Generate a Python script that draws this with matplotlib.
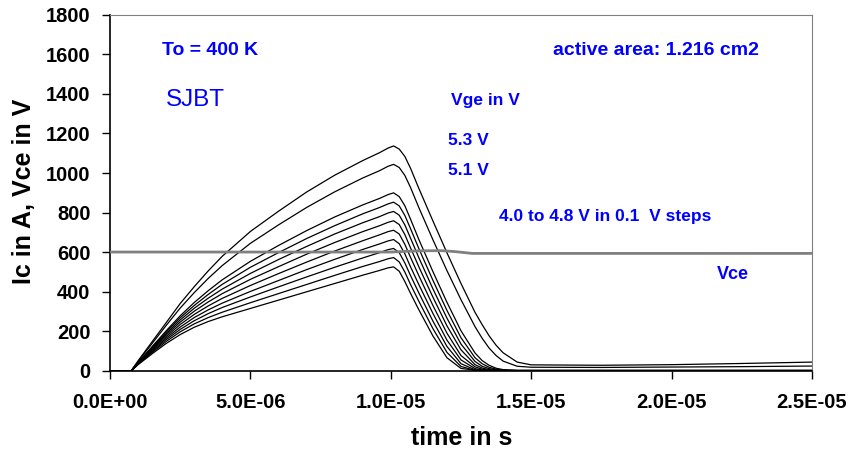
import numpy as np
import matplotlib
matplotlib.use("Agg")
import matplotlib.pyplot as plt
from matplotlib.ticker import FuncFormatter

plt.rcParams["font.family"] = ["Liberation Sans", "DejaVu Sans"]

# time axis of the collector current curves, in microseconds
t_us = [0, 0.75, 1.0, 1.5, 2.0, 2.5, 3.0, 3.5, 4.0, 5.0, 6.0, 7.0, 8.0,
        9.0, 9.6, 9.9, 10.1,
        10.3, 10.5, 10.7, 11.0, 11.5, 12.0, 12.5, 13.0, 13.25, 13.5, 13.75,
        14.0, 14.5, 15.0, 17.5, 20.0, 22.5, 25.0]

# Ic in A, one list per gate voltage (top curve to bottom curve)
ic_53 = [0, 0, 51, 148, 244, 341, 426, 506, 580, 705, 807, 904, 989,
         1063, 1103, 1126, 1137,
         1121, 1084, 1025, 922, 758, 597, 442, 296, 235, 178, 130,
         92, 45, 31, 29, 32, 38, 45]
ic_51 = [0, 0, 49, 139, 230, 318, 396, 468, 533, 645, 738, 826, 905,
         975, 1012, 1034, 1044,
         1028, 988, 928, 825, 663, 507, 360, 224, 166, 116, 78,
         50, 24, 19, 18, 20, 22, 25]
ic_48 = [0, 0, 43, 123, 203, 279, 346, 406, 461, 554, 634, 709, 778,
         839, 872, 891, 900,
         881, 835, 768, 664, 502, 347, 203, 91, 53, 29, 14,
         7, 3, 3, 3, 3, 3, 3]
ic_47 = [0, 0, 42, 120, 196, 269, 331, 387, 438, 524, 598, 669, 734,
         794, 826, 844, 853,
         834, 786, 720, 618, 458, 306, 168, 67, 37, 19, 9,
         4, 3, 3, 3, 3, 3, 3]
ic_46 = [0, 0, 41, 116, 189, 258, 317, 368, 414, 493, 563, 629, 692,
         749, 780, 798, 806,
         787, 738, 672, 572, 415, 267, 136, 48, 24, 12, 6,
         3, 2, 2, 2, 2, 2, 2]
ic_45 = [0, 0, 40, 112, 182, 247, 302, 349, 391, 463, 527, 590, 649,
         704, 734, 751, 759,
         740, 689, 623, 526, 373, 228, 107, 32, 15, 7, 4,
         2, 2, 2, 2, 2, 2, 2]
ic_44 = [0, 0, 38, 107, 174, 235, 286, 329, 367, 432, 492, 550, 606,
         658, 688, 704, 711,
         692, 640, 575, 481, 331, 191, 78, 21, 9, 4, 2,
         2, 2, 2, 2, 2, 2, 2]
ic_43 = [0, 0, 37, 103, 166, 222, 270, 309, 343, 402, 457, 512, 564,
         614, 642, 657, 664,
         643, 592, 527, 436, 291, 156, 56, 12, 5, 2, 2,
         2, 2, 2, 2, 2, 2, 2]
ic_42 = [0, 0, 35, 98, 158, 210, 254, 290, 321, 374, 425, 475, 524,
         571, 598, 613, 619,
         598, 546, 483, 394, 252, 124, 37, 6, 3, 2, 2,
         2, 2, 2, 2, 2, 2, 2]
ic_41 = [0, 0, 34, 93, 149, 198, 238, 270, 297, 345, 391, 437, 483,
         528, 553, 567, 573,
         551, 500, 438, 352, 214, 94, 23, 3, 2, 2, 2,
         2, 2, 2, 2, 2, 2, 2]
ic_40 = [0, 0, 32, 87, 139, 184, 221, 250, 274, 316, 358, 400, 442,
         484, 508, 521, 526,
         504, 452, 393, 309, 177, 67, 13, 4, 1, 1, 1,
         1, 1, 1, 1, 1, 1, 1]

ic_curves = [ic_53, ic_51, ic_48, ic_47, ic_46, ic_45, ic_44, ic_43,
             ic_42, ic_41, ic_40]

# Vce in V
vce_t_us = [0, 10.0, 11.0, 11.8, 12.3, 12.9, 25.0]
vce = [601, 601, 607, 608, 603, 594, 594]

x_ticks = [0, 5e-6, 1e-5, 1.5e-5, 2e-5, 2.5e-5]
y_ticks = list(range(0, 1801, 200))

fig = plt.figure(figsize=(8.5, 4.54), dpi=100)
ax = fig.add_axes([110 / 850, 1 - 371 / 454, 702 / 850, 356.3 / 454])

t = np.array(t_us) * 1e-6
for curve in ic_curves:
    ax.plot(t, curve, color="black", lw=0.9, zorder=2)
ax.plot(np.array(vce_t_us) * 1e-6, vce, color="#808080", lw=2.0, zorder=3)

ax.set_xlim(0, 2.5e-5)
ax.set_ylim(0, 1800)
ax.set_xticks(x_ticks)
ax.set_yticks(y_ticks)
ax.xaxis.set_major_formatter(FuncFormatter(lambda v, p: f"{v:.1E}"))

for s in ["top", "right"]:
    ax.spines[s].set_color("#808080")
    ax.spines[s].set_linewidth(0.8)
for s in ["left", "bottom"]:
    ax.spines[s].set_color("black")
    ax.spines[s].set_linewidth(1.2)
ax.tick_params(direction="out", length=6, width=1.0, labelsize=14.5)
ax.tick_params(axis="x", pad=10)
ax.tick_params(axis="y", pad=8)
for lab in ax.get_xticklabels() + ax.get_yticklabels():
    lab.set_fontweight("bold")

fig.text(24 / 850, 1 - 191 / 454, "Ic in A, Vce in V", rotation=90,
         ha="center", va="center", fontsize=18, fontweight="bold")
fig.text(462 / 850, 1 - 438 / 454, "time in s", ha="center", va="center",
         fontsize=18, fontweight="bold")

blue = "#0000ff"
notes = [
    (1.84e-6, 1621, "To = 400 K", 14, "bold"),
    (1.99e-6, 1369, "SJBT", 17.5, "normal"),
    (15.78e-6, 1621, "active area: 1.216 cm2", 14, "bold"),
    (12.13e-6, 1369, "Vge in V", 12.5, "bold"),
    (12.02e-6, 1166, "5.3 V", 12.5, "bold"),
    (12.02e-6, 1015, "5.1 V", 12.5, "bold"),
    (13.87e-6, 782, "4.0 to 4.8 V in 0.1  V steps", 12.5, "bold"),
    (21.6e-6, 489, "Vce", 13, "bold"),
]
for x, y, txt, fs, fw in notes:
    ax.text(x, y, txt, color=blue, fontsize=fs, fontweight=fw,
            ha="left", va="center")

fig.savefig("out.png", dpi=100)
